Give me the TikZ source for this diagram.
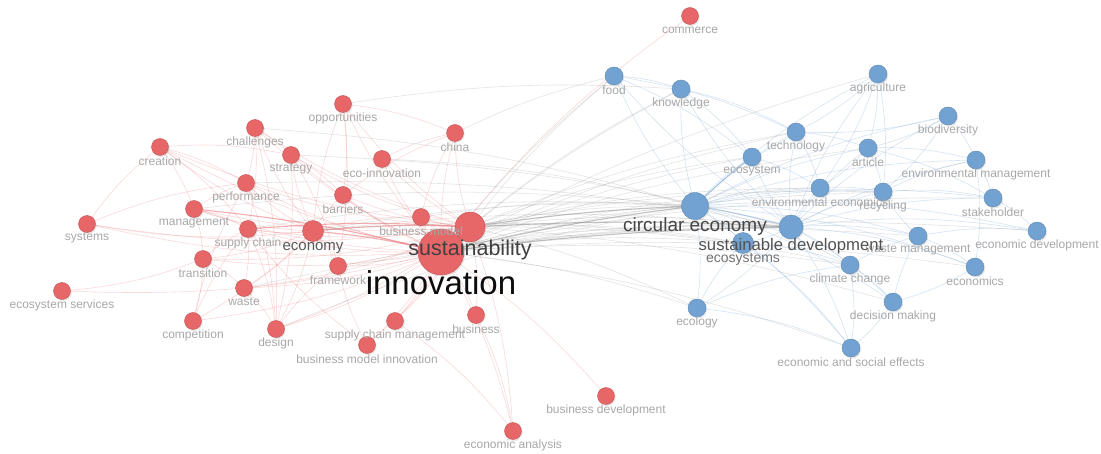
\documentclass[tikz,border=0pt]{standalone}
\usepackage{fontspec}
\setmainfont{Liberation Sans}
\usetikzlibrary{shadows}

\definecolor{vosred}{RGB}{231,102,104}
\definecolor{vosblue}{RGB}{114,162,210}
\definecolor{redline}{RGB}{236,120,124}
\definecolor{blueline}{RGB}{140,178,216}
\definecolor{greyline}{RGB}{150,150,150}
\definecolor{lblgrey}{RGB}{168,168,168}

\pgfdeclarelayer{bg}
\pgfdeclarelayer{links}
\pgfdeclarelayer{lbls}
\pgfsetlayers{bg,links,main,lbls}

\tikzset{
  kw/.style={circle,inner sep=0pt,minimum size=#1,line width=0.4pt,
    drop shadow={opacity=0.18,shadow xshift=1.2pt,shadow yshift=-1.5pt}},
  rkw/.style={kw=#1,fill=vosred,draw=vosred!85!black},
  rkw/.default=17pt,
  bkw/.style={kw=#1,fill=vosblue,draw=vosblue!85!black},
  bkw/.default=18pt,
  kwlabel/.style={text=lblgrey,font=\fontsize{12}{12}\selectfont,inner sep=0pt},
  rlink/.style={redline,opacity=0.28,line width=0.6pt},
  glink/.style={greyline,opacity=0.25,line width=0.6pt},
  blink/.style={blueline,opacity=0.35,line width=0.6pt},
  heavy/.style={opacity=0.6,line width=1.1pt}
}

\begin{document}
\begin{tikzpicture}[x=1pt,y=-1pt]
\begin{pgfonlayer}{bg}
\fill[white] (0,0) rectangle (1101,454);
\end{pgfonlayer}
\useasboundingbox (0,0) rectangle (1101,454);

\foreach \n/\x/\y/\t in {comm/690/16/commerce, opp/343/104/opportunities,
  chal/255/128/challenges, china/455/133/china, creat/160/147/creation,
  strat/291/155/strategy, ecoinn/382/159/eco-innovation,
  perf/246/183/performance, barr/343/195/barriers, mgmt/194/209/management,
  syst/87/224/systems, sc/248/229/supply chain, bm/421/217/business model,
  trans/203/259/transition, frame/338/266/framework, waste/244/288/waste,
  ess/62/291/ecosystem services, comp/193/321/competition,
  design/276/329/design, scm/395/321/supply chain management,
  bus/476/315/business, bmi/367/345/business model innovation,
  busdev/606/396/business development, econan/513/431/economic analysis}{
  \node[rkw] (\n) at (\x,\y) {};
  \begin{pgfonlayer}{lbls}
    \node[kwlabel] (\n-lbl) at ([yshift=-14pt]\n.center) {\t};
  \end{pgfonlayer}
}

\foreach \n/\x/\y/\t in {food/614/76/food, know/681/89/knowledge,
  agri/878/74/agriculture, bio/948/116/biodiversity, techn/796/132/technology,
  art/868/148/article, ecosy/752/157/ecosystem,
  envman/976/160/environmental management,
  envecon/820/188/environmental economics, recyc/883/192/recycling,
  stake/993/198/stakeholder, wmgmt/918/236/waste management,
  econdev/1037/231/economic development, climate/850/265/climate change,
  econs/975/267/economics, decis/893/302/decision making,
  ecol/697/308/ecology, ecse/851/348/economic and social effects}{
  \node[bkw] (\n) at (\x,\y) {};
  \begin{pgfonlayer}{lbls}
    \node[kwlabel] (\n-lbl) at ([yshift=-14pt]\n.center) {\t};
  \end{pgfonlayer}
}

\node[rkw=21pt] (econ) at (313,231) {};
\node[rkw=30pt] (sust) at (470,227) {};
\node[rkw=46pt] (inno) at (441,252) {};
\node[bkw=27pt] (circ) at (695,206) {};
\node[bkw=24pt] (sdev) at (791,227) {};
\node[bkw=21pt] (ecosys) at (743,243) {};

\begin{pgfonlayer}{lbls}
\node[kwlabel,text=black!65,font=\fontsize{15}{15}\selectfont] (econ-lbl) at (313,248) {economy};
\node[kwlabel,text=black!75,font=\fontsize{21.5}{21.5}\selectfont] (sust-lbl) at (470,250) {sustainability};
\node[kwlabel,text=black!95,font=\fontsize{33}{33}\selectfont] (inno-lbl) at (441,283) {innovation};
\node[kwlabel,text=black!72,font=\fontsize{19}{19}\selectfont] (circ-lbl) at (695,227) {circular economy};
\node[kwlabel,text=black!68,font=\fontsize{16.7}{16.7}\selectfont] (sdev-lbl) at (791,246) {sustainable development};
\node[kwlabel,text=black!55,font=\fontsize{14}{14}\selectfont] (ecosys-lbl) at (743,259) {ecosystems};
\end{pgfonlayer}

\begin{pgfonlayer}{links}
\foreach \b in {opp,chal,china,creat,strat,ecoinn,perf,barr,mgmt,syst,sc,bm,trans,frame,waste,ess,comp,design,scm,bus,bmi,busdev,econan,comm}
  \draw[rlink] (inno.center) to[bend left=8] (\b.center);
\foreach \b in {opp,chal,china,creat,strat,ecoinn,perf,barr,mgmt,sc,bm,trans,frame,waste,design,scm,bus,bmi,econan,syst}
  \draw[rlink] (sust.center) to[bend left=8] (\b.center);
\foreach \b in {chal,creat,strat,perf,barr,mgmt,syst,sc,trans,waste,comp,design,frame,opp,bm}
  \draw[rlink] (econ.center) to[bend left=8] (\b.center);
\foreach \a/\b in {creat/perf,creat/mgmt,creat/sc,creat/strat,chal/strat,chal/perf,chal/sc,chal/design,
  mgmt/sc,mgmt/trans,mgmt/perf,trans/ess,trans/comp,trans/waste,trans/sc,waste/design,sc/design,
  sc/waste,comp/sc,comp/perf,strat/design,opp/china,opp/barr,opp/frame,ecoinn/china,barr/china,
  bm/china,strat/barr,perf/design,design/frame,bmi/frame,bmi/sc,scm/econan,bus/econan,syst/creat,
  syst/perf,strat/frame}
  \draw[rlink] (\a.center) to[bend left=8] (\b.center);
\foreach \a/\b in {econ/inno,econ/sust,inno/sust,sc/sust,mgmt/inno}
  \draw[rlink,heavy] (\a.center) to[bend left=4] (\b.center);

\foreach \b in {circ,sdev,ecosys,ecosy,food,know,techn,art,envecon,recyc,wmgmt,climate,ecol,ecse,econdev,econs,stake,agri}
  \draw[glink] (inno.center) to[bend left=6] (\b.center);
\foreach \b in {circ,sdev,ecosys,ecosy,food,know,techn,envecon,climate,ecol,recyc,decis}
  \draw[glink] (sust.center) to[bend left=6] (\b.center);
\foreach \a/\b in {econ/circ,econ/sdev,econ/ecosys,sc/circ,mgmt/circ,strat/sdev,chal/circ,perf/sdev,
  bm/circ,china/food,opp/know,ecoinn/circ,frame/sdev,design/circ,waste/sdev}
  \draw[glink] (\a.center) to[bend left=6] (\b.center);
\foreach \a/\b in {sust/circ,inno/circ,sust/sdev,inno/sdev}
  \draw[glink,heavy] (\a.center) to[bend left=3] (\b.center);

\foreach \b in {food,know,agri,bio,techn,art,ecosy,envman,envecon,recyc,stake,ecosys,wmgmt,econdev,climate,econs,ecol,decis,ecse}
  \draw[blink] (circ.center) to[bend left=8] (\b.center);
\foreach \b in {food,know,agri,bio,techn,art,ecosy,envman,envecon,recyc,stake,ecosys,wmgmt,econdev,climate,econs,ecol,decis,ecse}
  \draw[blink] (sdev.center) to[bend left=8] (\b.center);
\foreach \a/\b in {agri/art,agri/recyc,agri/techn,agri/envecon,bio/art,bio/envman,bio/recyc,bio/techn,
  techn/art,techn/ecosy,techn/envecon,art/envman,art/recyc,art/envecon,envecon/recyc,recyc/stake,
  recyc/envman,envman/stake,envman/econs,stake/econdev,wmgmt/econdev,wmgmt/econs,wmgmt/recyc,
  climate/decis,climate/ecse,climate/wmgmt,ecol/ecse,ecol/ecosys,ecol/climate,decis/wmgmt,
  decis/ecse,food/know,food/ecosy,know/ecosy,know/techn,ecosy/envecon,ecosys/climate,econs/decis,
  ecosys/ecse,food/techn,art/stake}
  \draw[blink] (\a.center) to[bend left=8] (\b.center);
\draw[blink,heavy] (circ.center) to[bend left=3] (sdev.center);
\draw[blink,heavy] (circ.center) to[bend left=3] (ecosy.center);
\end{pgfonlayer}
\end{tikzpicture}
\end{document}
